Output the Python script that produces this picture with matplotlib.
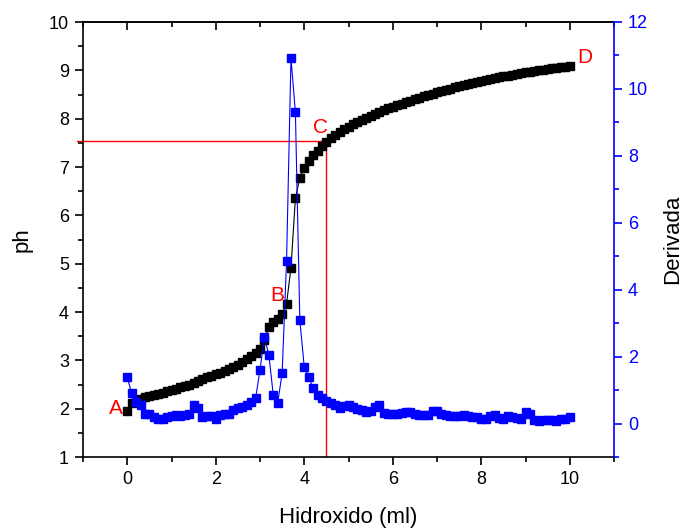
import numpy as np
import matplotlib
matplotlib.use("Agg")
import matplotlib.pyplot as plt
from matplotlib.ticker import MultipleLocator

plt.rcParams['font.family'] = ['Liberation Sans', 'DejaVu Sans']

# Hidroxido volume (ml)
volume = [round(0.1 * i, 1) for i in range(101)]

ph = [1.95, 2.12, 2.17, 2.21, 2.24, 2.26, 2.29, 2.31, 2.33, 2.36,
      2.39, 2.41, 2.44, 2.47, 2.50, 2.54, 2.58, 2.62, 2.65, 2.68,
      2.71, 2.74, 2.78, 2.82, 2.86, 2.91, 2.96, 3.02, 3.08, 3.15,
      3.23, 3.43, 3.70, 3.80, 3.86, 3.95, 4.17, 4.92, 6.35, 6.78,
      6.97, 7.12, 7.24, 7.34, 7.44, 7.52, 7.59, 7.66, 7.72, 7.78,
      7.83, 7.88, 7.93, 7.98, 8.02, 8.06, 8.10, 8.14, 8.18, 8.22,
      8.25, 8.28, 8.31, 8.34, 8.37, 8.40, 8.43, 8.46, 8.49, 8.52,
      8.55, 8.57, 8.60, 8.62, 8.65, 8.67, 8.69, 8.72, 8.74, 8.76,
      8.78, 8.80, 8.82, 8.84, 8.86, 8.88, 8.89, 8.91, 8.93, 8.94,
      8.96, 8.97, 8.99, 9.00, 9.01, 9.03, 9.04, 9.05, 9.06, 9.07,
      9.08]

derivada = [1.38, 0.90, 0.65, 0.55, 0.30, 0.30, 0.20, 0.13, 0.15, 0.20,
            0.24, 0.25, 0.24, 0.26, 0.30, 0.55, 0.45, 0.20, 0.24, 0.22,
            0.13, 0.26, 0.28, 0.30, 0.40, 0.45, 0.50, 0.55, 0.65, 0.75,
            1.60, 2.58, 2.05, 0.85, 0.62, 1.50, 4.85, 10.92, 9.30, 3.09,
            1.69, 1.39, 1.06, 0.85, 0.75, 0.68, 0.62, 0.55, 0.47, 0.52,
            0.55, 0.48, 0.44, 0.40, 0.35, 0.38, 0.50, 0.55, 0.32, 0.28,
            0.30, 0.30, 0.32, 0.35, 0.33, 0.28, 0.27, 0.25, 0.26, 0.38,
            0.36, 0.28, 0.25, 0.22, 0.24, 0.22, 0.25, 0.22, 0.20, 0.21,
            0.15, 0.14, 0.22, 0.25, 0.16, 0.15, 0.22, 0.20, 0.16, 0.15,
            0.33, 0.28, 0.10, 0.09, 0.12, 0.11, 0.10, 0.09, 0.13, 0.13,
            0.20]

point_labels = ['A', 'B', 'C', 'D']
label_x = [-0.25, 3.38, 4.37, 10.34]
label_ph = [2.01, 4.35, 7.81, 9.26]

ref_x = 4.5
ref_ph = 7.53

fig = plt.figure(figsize=(6.82, 5.29), dpi=100)
ax = fig.add_axes([83/682, 1 - 457/529, (614-83)/682, (457-22)/529])
ax2 = ax.twinx()

ax.plot(volume, ph, color='black', lw=0.8, marker='s', ms=5.5,
        mfc='black', mec='black', zorder=3)
ax2.plot(volume, derivada, color='blue', lw=0.8, marker='s', ms=5.5,
         mfc='blue', mec='blue', zorder=3)

# reference lines
ax.plot([-1.13, ref_x], [ref_ph, ref_ph], color='red', lw=1, clip_on=False, zorder=2)
ax.plot([ref_x, ref_x], [1, ref_ph], color='red', lw=1, zorder=2)

for t, xx, yy in zip(point_labels, label_x, label_ph):
    ax.text(xx, yy, t, color='red', fontsize=15, ha='center', va='center', zorder=5)

ax.set_xlim(-1, 11)
ax.set_ylim(1, 10)
ax2.set_ylim(-1, 12)

ax.xaxis.set_major_locator(MultipleLocator(2))
ax.xaxis.set_minor_locator(MultipleLocator(1))
ax.yaxis.set_major_locator(MultipleLocator(1))
ax.yaxis.set_minor_locator(MultipleLocator(0.5))
ax2.yaxis.set_major_locator(MultipleLocator(2))
ax2.yaxis.set_minor_locator(MultipleLocator(1))

ax.tick_params(axis='both', which='major', direction='out', length=6, width=1.2,
               labelsize=13, pad=4)
ax.tick_params(axis='both', which='minor', direction='out', length=3.5, width=1.2)
ax2.tick_params(axis='y', which='major', direction='out', length=6, width=1.2,
                colors='blue', labelsize=13, pad=4)
ax2.tick_params(axis='y', which='minor', direction='out', length=3.5, width=1.2, colors='blue')

top = ax.secondary_xaxis('top')
top.xaxis.set_major_locator(MultipleLocator(2))
top.xaxis.set_minor_locator(MultipleLocator(1))
top.tick_params(axis='x', which='major', direction='in', length=6, width=1.2, labeltop=False)
top.tick_params(axis='x', which='minor', direction='in', length=3.5, width=1.2)
top.spines['top'].set_linewidth(1.2)

for s in ['left', 'bottom', 'top']:
    ax.spines[s].set_linewidth(1.2)
ax.spines['right'].set_visible(False)
for s in ['left', 'bottom', 'top']:
    ax2.spines[s].set_visible(False)
ax2.spines['right'].set_color('blue')
ax2.spines['right'].set_linewidth(1.2)

ax.set_xlabel('Hidroxido (ml)', fontsize=16, labelpad=14)
ax.set_ylabel('ph', fontsize=16, labelpad=12)
ax2.set_ylabel('Derivada', fontsize=16, labelpad=10)

fig.savefig('out.png', dpi=100)
